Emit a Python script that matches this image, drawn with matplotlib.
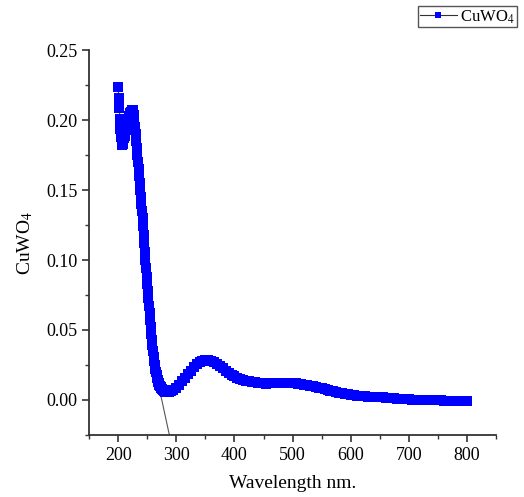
import numpy as np
import matplotlib
matplotlib.use("Agg")
import matplotlib.pyplot as plt
from matplotlib.ticker import MultipleLocator

plt.rcParams['font.family'] = ['Liberation Serif', 'DejaVu Serif']
plt.rcParams['mathtext.fontset'] = 'stix'

# absorbance, 1 nm steps from 200 to 290 nm
wl_a = list(range(200, 291))
abs_a = [0.224, 0.216, 0.209, 0.201, 0.194, 0.188, 0.184, 0.182, 0.183, 0.185,
         0.187, 0.189, 0.191, 0.193, 0.195, 0.197, 0.199, 0.200, 0.202, 0.203,
         0.204, 0.205, 0.206, 0.207, 0.207, 0.207, 0.206, 0.204, 0.200, 0.195,
         0.190, 0.185, 0.180, 0.175, 0.170, 0.165, 0.160, 0.155, 0.150, 0.145,
         0.140, 0.135, 0.130, 0.124, 0.118, 0.112, 0.106, 0.100, 0.094, 0.088,
         0.083, 0.078, 0.073, 0.067, 0.062, 0.057, 0.052, 0.047, 0.043, 0.039,
         0.035, 0.031, 0.028, 0.025, 0.022, 0.020, 0.018, 0.016, 0.014, 0.013,
         0.012, 0.011, 0.010, 0.009, 0.0085, 0.008, 0.0075, 0.007, 0.0067, 0.0064,
         0.0062, 0.006, 0.0058, 0.0057, 0.0056, 0.0056, 0.0057, 0.0058, 0.006, 0.0062,
         0.0064]

# absorbance, 5 nm steps from 295 to 800 nm
wl_b = list(range(295, 801, 5))
abs_b = [0.0072, 0.0085, 0.011, 0.0135, 0.016, 0.0185, 0.021, 0.0235, 0.0255, 0.027,
         0.028, 0.0285, 0.0285, 0.028, 0.027, 0.0255, 0.024, 0.0225, 0.021, 0.0195,
         0.018, 0.017, 0.016, 0.015, 0.0143, 0.0137, 0.0132, 0.0128, 0.0125, 0.0122,
         0.012, 0.0118, 0.0117, 0.0118, 0.012, 0.0121, 0.0122, 0.0122, 0.0122, 0.0122,
         0.0121, 0.012, 0.0118, 0.0116, 0.0113, 0.011, 0.0106, 0.0102, 0.0097, 0.0092,
         0.0087, 0.0082, 0.0077, 0.0072, 0.0067, 0.0062, 0.0057, 0.0052, 0.0048, 0.0044,
         0.004, 0.0036, 0.0033, 0.003, 0.0028, 0.0026, 0.0025, 0.0024, 0.0023, 0.0022,
         0.0021, 0.002, 0.0019, 0.0017, 0.0015, 0.0013, 0.0011, 0.0009, 0.0007, 0.0005,
         0.0004, 0.0003, 0.0002, 0.0001, 0.0, 0.0, -0.0001, -0.0002, -0.0002, -0.0003,
         -0.0003, -0.0004, -0.0004, -0.0005, -0.0005, -0.0006, -0.0006, -0.0007, -0.0007, -0.0008,
         -0.0008, -0.0008]

wavelength = wl_a + wl_b
absorb = abs_a + abs_b

# band edge tangent
tan_x = [250, 288]
tan_y = [0.048, -0.025]

fig = plt.figure(figsize=(5.24, 4.97), dpi=100)
ax = fig.add_axes([0.170, 0.125, 0.777, 0.774])

ax.plot(tan_x, tan_y, color='#555555', lw=0.8, zorder=1)
ax.plot(wavelength, absorb, color='#333333', lw=0.8, marker='s', markersize=7,
        markerfacecolor='blue', markeredgewidth=0, zorder=2, label='CuWO$_4$')

ax.set_xlim(150, 850)
ax.set_ylim(-0.025, 0.25)
ax.xaxis.set_major_locator(MultipleLocator(100))
ax.xaxis.set_minor_locator(MultipleLocator(50))
ax.yaxis.set_major_locator(MultipleLocator(0.05))
ax.yaxis.set_minor_locator(MultipleLocator(0.025))
ax.yaxis.set_major_formatter(plt.FormatStrFormatter('%.2f'))

for s in ['top', 'right']:
    ax.spines[s].set_visible(False)
for s in ['left', 'bottom']:
    ax.spines[s].set_color('#333333')
    ax.spines[s].set_linewidth(1.3)

ax.tick_params(which='major', direction='out', length=5, width=1.2, color='#333333',
               labelsize=13)
ax.tick_params(which='minor', direction='out', length=3, width=1.0, color='#333333')

ax.set_xlabel('Wavelength nm.', fontsize=14, labelpad=8)
ax.set_ylabel('CuWO$_4$', fontsize=14, labelpad=8)

leg = fig.legend(loc='upper right', bbox_to_anchor=(0.986, 0.987), fontsize=12,
                 fancybox=False, edgecolor='#555555', framealpha=1, handlelength=2.2,
                 numpoints=1, markerscale=0.7,
                 borderpad=0.1, handletextpad=0.2, borderaxespad=0.0)

fig.savefig('out.png', dpi=100)
